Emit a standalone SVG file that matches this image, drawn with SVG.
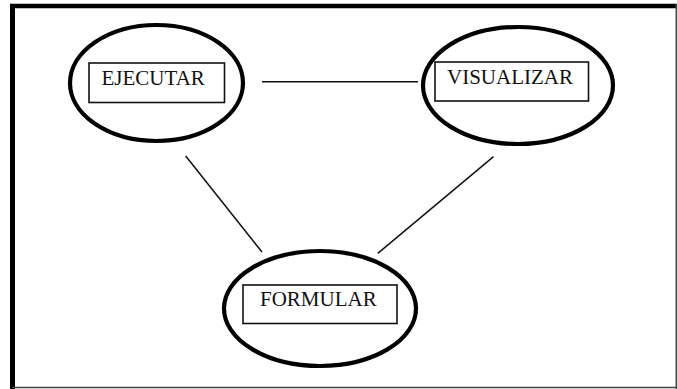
<svg xmlns="http://www.w3.org/2000/svg" width="677" height="389" viewBox="0 0 677 389">
<style>
.ell{fill:none;stroke:#000;stroke-width:4.2}
.box{fill:#fff;stroke:#111;stroke-width:1.6}
.lbl{font-family:"Liberation Serif","Times New Roman",serif;font-size:21px;fill:#111}
.con{stroke:#111;stroke-width:1.5;fill:none}
</style>
<rect width="677" height="389" fill="#fff"/>
<g id="frame">
<line x1="12.5" y1="4" x2="12.5" y2="389" stroke="#000" stroke-width="5"/>
<line x1="10" y1="6" x2="677" y2="6" stroke="#000" stroke-width="4.5"/>
<line x1="12" y1="387.5" x2="677" y2="387.5" stroke="#444" stroke-width="1.5"/>
<line x1="676.3" y1="4" x2="676.3" y2="389" stroke="#444" stroke-width="1.5"/>
</g>
<g id="connectors">
<line class="con" x1="262" y1="81.7" x2="418" y2="81.7"/>
<line class="con" x1="185.7" y1="156" x2="262" y2="252"/>
<line class="con" x1="493.5" y1="156.7" x2="377.8" y2="253.3"/>
</g>
<g id="ejecutar">
<ellipse class="ell" cx="156.5" cy="83" rx="86.5" ry="58"/>
<rect class="box" x="89" y="63" width="135.5" height="39.5"/>
<text class="lbl" x="101.5" y="85">EJECUTAR</text>
</g>
<g id="visualizar">
<ellipse class="ell" cx="518" cy="85.5" rx="95" ry="58.5"/>
<rect class="box" x="435" y="62" width="153.5" height="39"/>
<text class="lbl" x="447" y="83.5">VISUALIZAR</text>
</g>
<g id="formular">
<ellipse class="ell" cx="320" cy="308.5" rx="96" ry="57.5"/>
<rect class="box" x="243" y="285" width="154" height="38.5"/>
<text class="lbl" x="260" y="305.7">FORMULAR</text>
</g>
</svg>
